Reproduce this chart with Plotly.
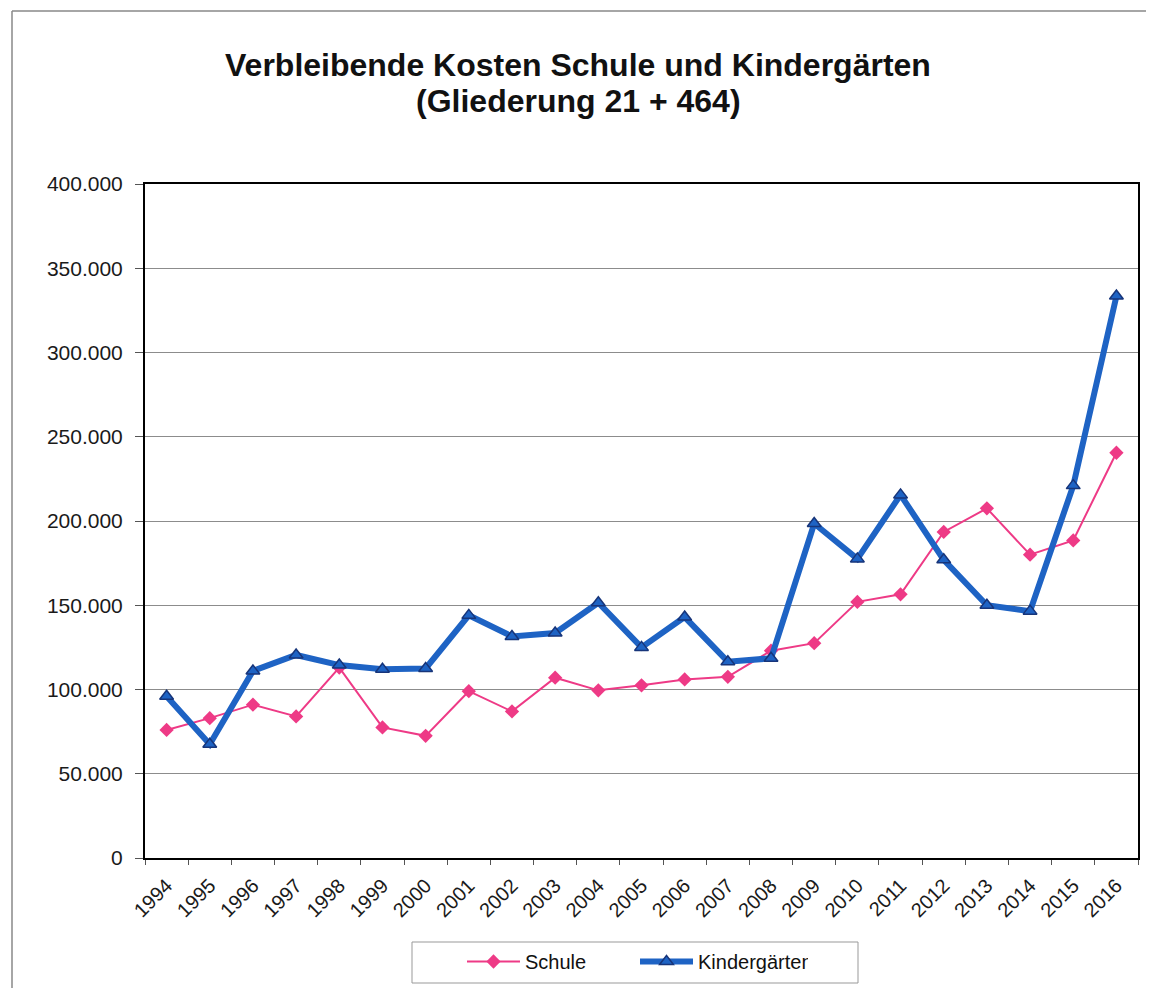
import plotly.graph_objects as go

years = [str(y) for y in range(1994, 2017)]
schule = [76000, 83000, 91000, 84000, 113000, 77500, 72500, 99000, 87000, 107000,
          99500, 102500, 106000, 107500, 123000, 127500, 152000, 156500, 193500,
          207500, 180000, 188500, 240500]
kinder = [96000, 67500, 111000, 120500, 114500, 112000, 112500, 144000, 131500,
          133500, 151500, 125000, 143000, 116500, 118500, 198500, 177500, 215500,
          177000, 150000, 146500, 221000, 333500]
title_lines = ["Verbleibende Kosten Schule und Kindergärten", "(Gliederung 21 + 464)"]

# page body has an 8px margin; plot area spans page x 145..1138, y 184..858
W, H = 1146, 1010
ML, MR, MT = 137, 16, 176
MB = H - (858 - 8)
PW, PH = W - ML - MR, H - MT - MB


def px_x(page_x):
    return (page_x - 8 - ML) / PW


def px_y(page_y):
    return (H - MB - (page_y - 8)) / PH


fig = go.Figure()
fig.add_trace(go.Scatter(
    x=years, y=schule, name="Schule", mode="lines+markers",
    line=dict(color="#EE3A86", width=2),
    marker=dict(symbol="diamond", size=11, color="#EE3A86"),
))
fig.add_trace(go.Scatter(
    x=years, y=kinder, name="Kindergärten", mode="lines+markers",
    line=dict(color="#1E63C4", width=6),
    marker=dict(symbol="triangle-up", size=12, color="#1E63C4",
                line=dict(color="#17357A", width=1.5)),
))

fig.update_layout(
    width=W, height=H,
    paper_bgcolor="white", plot_bgcolor="white",
    font=dict(family="Liberation Sans, Arial, sans-serif", color="#1a1a1a"),
    separators=",.",
    margin=dict(l=ML, r=MR, t=MT, b=MB, autoexpand=False),
    showlegend=True,
    legend=dict(
        orientation="h", x=px_x(462), xanchor="left", y=px_y(942), yanchor="top",
        borderwidth=0, bgcolor="rgba(0,0,0,0)",
        font=dict(size=20, color="#111111"),
        itemwidth=53, entrywidth=105,
    ),
    xaxis=dict(
        type="category", range=[-0.5, 22.5], automargin=False,
        tickangle=-45, tickfont=dict(size=20), ticklabelstandoff=6,
        showgrid=False, showline=True, linecolor="black", linewidth=2,
        mirror=True, ticks="outside", ticklen=5, tickcolor="#555555",
        tickson="boundaries",
    ),
    yaxis=dict(
        range=[0, 400000], tickvals=list(range(0, 400001, 50000)), automargin=False,
        tickformat=",.0f", tickfont=dict(size=21), ticklabelstandoff=8,
        showgrid=True, gridcolor="#8c8c8c", gridwidth=1,
        showline=True, linecolor="black", linewidth=2, mirror=True,
        ticks="outside", ticklen=8, tickcolor="#555555", zeroline=False,
    ),
)

for text, py in zip(title_lines, [65, 101]):
    fig.add_annotation(
        text="<b>" + text + "</b>", xref="paper", yref="paper",
        x=px_x(578), y=px_y(py), xanchor="center", yanchor="middle",
        showarrow=False, font=dict(size=32, color="#111111"),
    )

# outer chart-area frame (top and left edges)
fig.add_shape(type="line", xref="paper", yref="paper",
              x0=px_x(12), x1=px_x(1153), y0=px_y(11), y1=px_y(11),
              line=dict(color="#888888", width=1.5))
fig.add_shape(type="line", xref="paper", yref="paper",
              x0=px_x(12), x1=px_x(12), y0=px_y(11), y1=px_y(1000),
              line=dict(color="#888888", width=1.5))
# legend box
fig.add_shape(type="rect", xref="paper", yref="paper",
              x0=px_x(412), x1=px_x(858), y0=px_y(983), y1=px_y(942),
              line=dict(color="#999999", width=1))

fig.write_html("out.html")
